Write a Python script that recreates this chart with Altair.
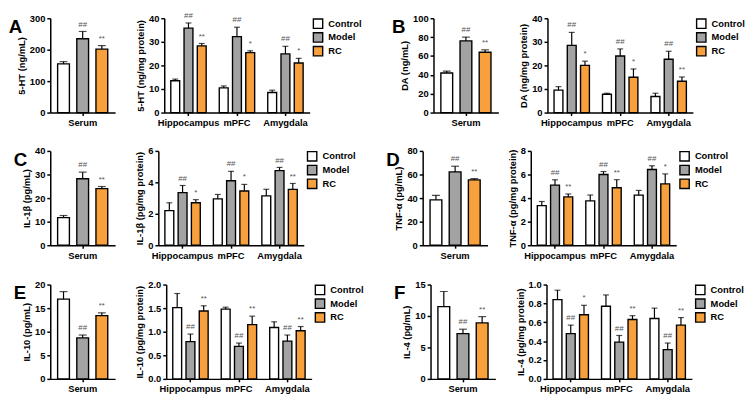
import altair as alt
import pandas as pd

FONT = "Liberation Sans"
GROUPS = ["Control", "Model", "RC"]
COLORS = ["#ffffff", "#a3a3a3", "#f8a03c"]
REGIONS = ["Hippocampus", "mPFC", "Amygdala"]

# ---- Panel A : 5-HT ----
A_serum_mean = [155, 235, 202]
A_serum_sd = [7, 23, 11]
A_serum_sig = ["", "##", "**"]
A_tissue_mean = [13.5, 35.8, 28.3, 10.5, 32.2, 25.4, 8.5, 24.9, 21.0]
A_tissue_sd = [0.7, 2.2, 1.0, 0.8, 4.0, 0.8, 1.0, 3.2, 2.0]
A_tissue_sig = ["", "##", "**", "", "##", "*", "", "##", "*"]

# ---- Panel B : DA ----
B_serum_mean = [42, 76, 64]
B_serum_sd = [2, 4, 2.5]
B_serum_sig = ["", "##", "**"]
B_tissue_mean = [9.5, 28.5, 20.0, 7.8, 24.0, 15.0, 6.8, 22.6, 13.3]
B_tissue_sd = [1.5, 5.5, 1.8, 0.4, 3.0, 3.5, 1.4, 3.4, 1.8]
B_tissue_sig = ["", "##", "*", "", "##", "*", "", "##", "**"]

# ---- Panel C : IL-1beta ----
C_serum_mean = [11.7, 28.2, 24.0]
C_serum_sd = [0.9, 2.8, 0.9]
C_serum_sig = ["", "##", "**"]
C_tissue_mean = [2.2, 3.35, 2.7, 2.95, 4.1, 3.45, 3.14, 4.75, 3.55]
C_tissue_sd = [0.5, 0.45, 0.2, 0.28, 0.6, 0.42, 0.42, 0.2, 0.38]
C_tissue_sig = ["", "##", "*", "", "##", "*", "", "##", "**"]

# ---- Panel D : TNF-alpha ----
D_serum_mean = [38.5, 62.2, 55.4]
D_serum_sd = [3.8, 4.8, 1.1]
D_serum_sig = ["", "##", "**"]
D_tissue_mean = [3.36, 5.1, 4.1, 3.76, 6.0, 4.88, 4.25, 6.42, 5.2]
D_tissue_sd = [0.35, 0.45, 0.25, 0.5, 0.25, 0.68, 0.4, 0.32, 0.85]
D_tissue_sig = ["", "##", "**", "", "##", "**", "", "##", "*"]

# ---- Panel E : IL-10 ----
E_serum_mean = [16.9, 8.7, 13.4]
E_serum_sd = [1.6, 0.6, 0.6]
E_serum_sig = ["", "##", "**"]
E_tissue_mean = [1.51, 0.79, 1.44, 1.48, 0.69, 1.15, 1.09, 0.80, 1.02]
E_tissue_sd = [0.30, 0.16, 0.11, 0.04, 0.07, 0.18, 0.12, 0.13, 0.09]
E_tissue_sig = ["", "##", "**", "", "##", "**", "", "##", "**"]

# ---- Panel F : IL-4 ----
F_serum_mean = [11.5, 7.2, 8.9]
F_serum_sd = [2.4, 0.7, 1.0]
F_serum_sig = ["", "##", "**"]
F_tissue_mean = [0.84, 0.48, 0.68, 0.77, 0.39, 0.63, 0.64, 0.31, 0.57]
F_tissue_sd = [0.10, 0.09, 0.10, 0.12, 0.07, 0.04, 0.11, 0.07, 0.08]
F_tissue_sig = ["", "##", "*", "", "##", "**", "", "##", "**"]

PANELS = [
    ("A", "5-HT (ng/mL)", [0, 100, 200, 300], "d", A_serum_mean, A_serum_sd, A_serum_sig,
     "5-HT (ng/mg protein)", [0, 10, 20, 30, 40], "d", A_tissue_mean, A_tissue_sd, A_tissue_sig),
    ("B", "DA (ng/mL)", [0, 20, 40, 60, 80, 100], "d", B_serum_mean, B_serum_sd, B_serum_sig,
     "DA (ng/mg protein)", [0, 10, 20, 30, 40], "d", B_tissue_mean, B_tissue_sd, B_tissue_sig),
    ("C", "IL-1β (pg/mL)", [0, 10, 20, 30, 40], "d", C_serum_mean, C_serum_sd, C_serum_sig,
     "IL-1β (pg/mg protein)", [0, 2, 4, 6], "d", C_tissue_mean, C_tissue_sd, C_tissue_sig),
    ("D", "TNF-α (pg/mL)", [0, 20, 40, 60, 80], "d", D_serum_mean, D_serum_sd, D_serum_sig,
     "TNF-α (pg/mg protein)", [0, 2, 4, 6, 8], "d", D_tissue_mean, D_tissue_sd, D_tissue_sig),
    ("E", "IL-10 (pg/mL)", [0, 5, 10, 15, 20], "d", E_serum_mean, E_serum_sd, E_serum_sig,
     "IL-10 (pg/mg protein)", [0, 0.5, 1.0, 1.5, 2.0], ".1f", E_tissue_mean, E_tissue_sd, E_tissue_sig),
    ("F", "IL-4 (pg/mL)", [0, 5, 10, 15], "d", F_serum_mean, F_serum_sd, F_serum_sig,
     "IL-4 (pg/mg protein)", [0, 0.2, 0.4, 0.6, 0.8, 1.0], ".1f", F_tissue_mean, F_tissue_sd, F_tissue_sig),
]

H = 96
W_SERUM = 66
W_TISSUE = 148


def frame(cats, means, sds, sigs):
    rows = []
    for i, (m, s, g) in enumerate(zip(means, sds, sigs)):
        rows.append({"cat": cats[i // 3], "grp": GROUPS[i % 3], "mean": m,
                     "hi": m + s, "sig": g})
    return pd.DataFrame(rows)


def bar_chart(df, cats, ytitle, ticks, fmt, width, xpi, xpo, opi, opo, cap, legend, letter=None):
    base = alt.Chart(df).encode(
        x=alt.X("cat:N", sort=cats,
                scale=alt.Scale(domain=cats, paddingInner=xpi, paddingOuter=xpo),
                axis=alt.Axis(title=None, labelAngle=0, labelOverlap=False)),
        xOffset=alt.XOffset("grp:N", sort=GROUPS,
                            scale=alt.Scale(domain=GROUPS, paddingInner=opi, paddingOuter=opo)),
    )
    yscale = alt.Scale(domain=[0, ticks[-1]], nice=False, zero=True)
    yaxis = alt.Axis(title=ytitle, values=ticks, format=fmt, labelOverlap=False,
                     tickCount=len(ticks))
    color = alt.Color("grp:N", sort=GROUPS,
                      scale=alt.Scale(domain=GROUPS, range=COLORS),
                      legend=(alt.Legend(title=None, symbolType="square", symbolSize=90,
                                         symbolStrokeColor="black", symbolStrokeWidth=1.4,
                                         labelFont=FONT, labelFontSize=9.5, labelFontWeight="bold",
                                         labelColor="black", offset=3, rowPadding=-3,
                                         labelOffset=5, padding=0) if legend else None))
    bars = base.mark_bar(stroke="black", strokeWidth=1.4).encode(
        y=alt.Y("mean:Q", scale=yscale, axis=yaxis, title=ytitle),
        color=color,
    )
    rule = base.mark_rule(color="black", strokeWidth=1.2).encode(
        y=alt.Y("mean:Q", scale=yscale, axis=yaxis, title=ytitle), y2="hi:Q")
    capm = base.mark_tick(color="black", thickness=1.2, size=cap, orient="horizontal").encode(
        y=alt.Y("hi:Q", scale=yscale, axis=yaxis, title=ytitle))
    txt = base.mark_text(fontSize=8, color="#555555", baseline="bottom", dy=-3,
                         font=FONT).encode(
        y=alt.Y("hi:Q", scale=yscale, axis=yaxis, title=ytitle), text="sig:N")
    ch = alt.layer(bars, rule, capm, txt).properties(width=width, height=H)
    if letter:
        ch = ch.properties(title=alt.TitleParams(letter, anchor="start", frame="bounds",
                                                 fontSize=19, fontWeight="bold", font=FONT,
                                                 color="black", dx=-8, offset=-24))
    return ch


def indep(c):
    return c.resolve_scale(x="independent", y="independent", color="independent",
                           xOffset="independent").resolve_legend(color="independent")


panels = []
for (L, st, sticks, sfmt, sm, ssd, ssig, tt, tticks, tfmt, tm, tsd, tsig) in PANELS:
    sdf = frame(["Serum"], sm, ssd, ssig)
    tdf = frame(REGIONS, tm, tsd, tsig)
    s = bar_chart(sdf, ["Serum"], st, sticks, sfmt, W_SERUM, 0.0, 0.147, 0.385, 0.0, 8, False, L)
    t = bar_chart(tdf, REGIONS, tt, tticks, tfmt, W_TISSUE, 0.27, 0.135, 0.33, 0.0, 6, True)
    panels.append(indep(alt.hconcat(s, t, spacing=20)))

rows = [indep(alt.hconcat(panels[i], panels[i + 1], spacing=30)) for i in (0, 2, 4)]
chart = indep(alt.vconcat(*rows, spacing=19)).properties(
    padding={"left": 0, "top": 0, "right": 0, "bottom": 0}
).configure_view(stroke=None).configure_axis(
    domainColor="black", domainWidth=1.5, tickColor="black", tickWidth=1.5, tickSize=3.5,
    labelFont=FONT, labelFontWeight="bold", labelFontSize=9.5, labelColor="black",
    titleFont=FONT, titleFontWeight="bold", titleFontSize=9.5, titleColor="black",
    grid=False, labelPadding=2, titlePadding=3
).configure_axisX(labelFontSize=9.5, tickSize=3)

chart.save("out.html", embed_options={"renderer": "svg", "actions": False})
